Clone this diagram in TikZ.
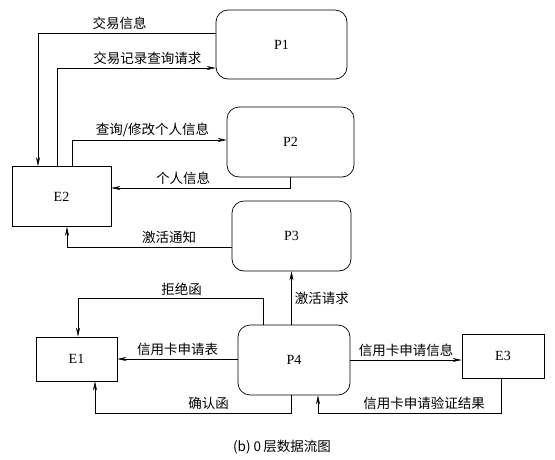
\documentclass[tikz,border=0pt]{standalone}
\usepackage{fontspec}
\setmainfont{Liberation Serif}
\newfontfamily\cjk{Noto Sans CJK SC}
\usetikzlibrary{shapes,arrows.meta,positioning}
\tikzstyle{proc}=[rectangle,draw,rounded corners=12pt,line width=0.7pt,align=center,font=\fontsize{14}{16}\selectfont]
\tikzstyle{ent}=[rectangle,draw,line width=0.7pt,align=center,font=\fontsize{14}{16}\selectfont]
\tikzstyle{arr}=[-{Stealth[length=9pt,width=4pt]},line width=0.6pt]
\tikzstyle{lbl}=[font=\cjk\fontsize{13.5}{15}\selectfont,inner sep=3pt]

\begin{document}
\begin{tikzpicture}[x=1pt,y=-1pt]
\useasboundingbox (0,0) rectangle (555,459);
\node[proc, minimum width=131pt, minimum height=69pt] (P1) at (281.5,44.5) {P1};
\node[proc, minimum width=127pt, minimum height=70pt] (P2) at (290.5,142) {P2};
\node[proc, minimum width=119pt, minimum height=70pt] (P3) at (291.5,236) {P3};
\node[proc, minimum width=112pt, minimum height=70pt] (P4) at (294,360) {P4};
\node[ent, minimum width=99pt, minimum height=60pt] (E2) at (61.5,196.5) {E2};
\node[ent, minimum width=81pt, minimum height=44pt] (E1) at (76.5,359) {E1};
\node[ent, minimum width=82pt, minimum height=44pt] (E3) at (503,356) {E3};
\draw[arr] ([yshift=11.5pt]P1.west) -| node[lbl, above, pos=.27] {交易信息} ([xshift=-23.5pt]E2.north);
\draw[arr] ([xshift=-4.5pt]E2.north) |- node[lbl, above, pos=.785] {交易记录查询请求} ([yshift=-23.5pt]P1.west);
\draw[arr] ([xshift=10.5pt]E2.north) |- node[lbl, above, pos=.76] {查询/修改个人信息} ([yshift=2pt]P2.west);
\draw[arr] (P2.south) |- node[lbl, above, pos=.8] {个人信息} ([yshift=8.5pt]E2.east);
\draw[arr] ([yshift=-11pt]P3.west) -| node[lbl, above, pos=.19] {激活通知} ([xshift=5.5pt]E2.south);
\draw[arr] (P3.south |- P4.north) -- node[lbl, right] {激活请求} (P3.south);
\draw[arr] ([xshift=-31pt]P4.north) -- ++(0,-26) -| node[lbl, above, pos=.22] {拒绝函} ([xshift=1.5pt]E1.north);
\draw[arr] (E1.east -| P4.west) -- node[lbl, above] {信用卡申请表} (E1.east);
\draw[arr] ([xshift=-3pt]P4.south) -- ++(0,18) -| node[lbl, above, pos=.21] {确认函} ([xshift=18.5pt]E1.south);
\draw[arr] (P4.east) -- node[lbl, above] {信用卡申请信息} (P4.east -| E3.west);
\draw[arr] ([xshift=-2pt]E3.south) -- ++(0,35) -| node[lbl, above, pos=.21] {信用卡申请验证结果} ([xshift=24pt]P4.south);
\node[lbl] (cap) at (282,447) {(b)\ 0\,层数据流图};
\end{tikzpicture}
\end{document}
